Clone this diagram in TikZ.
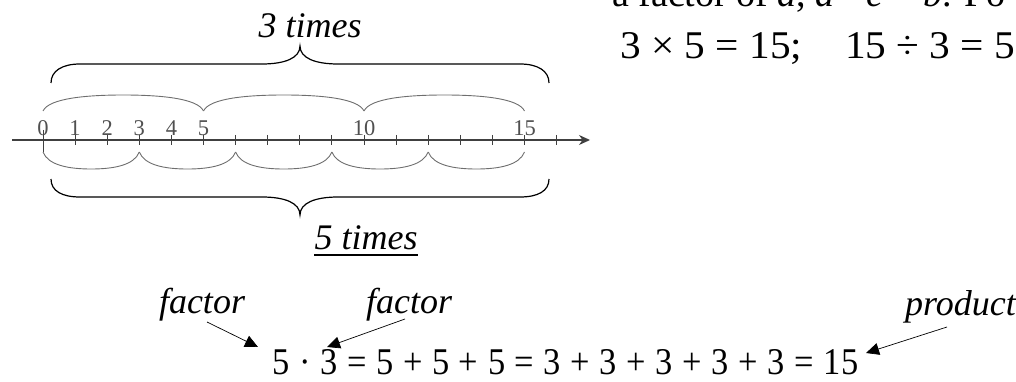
\documentclass[tikz,border=0pt]{standalone}
\usepackage{fontspec}
\setmainfont{Liberation Serif}
\usetikzlibrary{arrows.meta}
\definecolor{axisc}{HTML}{404040}
\definecolor{arcc}{HTML}{6E6E6E}
\definecolor{numc}{HTML}{505050}
\newcommand{\eqsp}{\hspace{0.28em}}
\begin{document}
\begin{tikzpicture}[x=1pt,y=-1pt,
  lbl/.style={font=\fontsize{36}{40}\selectfont\itshape, inner sep=0pt, anchor=base},
  tk/.style={draw=axisc, line width=1pt},
  arcline/.style={draw=arcc, line width=0.9pt},
  bracel/.style={draw=black, line width=1.2pt},
  ptr/.style={draw=black, line width=0.7pt, -{Triangle[length=13pt,width=12pt]}},
  num/.style={font=\fontsize{22.5}{24}\selectfont, text=numc, inner sep=0pt, anchor=base},
  eqn/.style={font=\fontsize{36}{40}\selectfont, inner sep=0pt, anchor=base west},
]
\useasboundingbox (0,0) rectangle (1016,382);
\clip (0,0) rectangle (1016,382);
% number line
\coordinate (L) at (12,140);
\coordinate (R) at (590,140);
\draw[axisc, line width=1.3pt, -{Stealth[length=11pt,width=10pt]}] (L) -- (R);
\foreach \i in {1,...,16} {\draw[tk] ({43+32.1*\i},135) -- ({43+32.1*\i},145);}
\draw[tk] (43,130) -- (43,152);
\foreach \i in {0,1,2,3,4,5,10,15} {\node[num] (n\i) at ({43+32.1*\i},135.5) {\i};}
% upper small arcs (groups of 5)
\foreach \a in {0,5,10} {
  \pgfmathsetmacro{\xa}{43+32.1*\a}
  \pgfmathsetmacro{\xb}{43+32.1*(\a+5)}
  \pgfmathsetmacro{\xm}{(\xa+\xb)/2}
  \draw[arcline] (\xa,111) .. controls (\xa+6,98) and (\xa+45,95) .. (\xm,95)
     .. controls (\xb-45,95) and (\xb-6,98) .. (\xb,111);
}
% lower small arcs (groups of 3)
\foreach \a in {0,3,6,9,12} {
  \pgfmathsetmacro{\xa}{43+32.1*\a}
  \pgfmathsetmacro{\xb}{43+32.1*(\a+3)}
  \pgfmathsetmacro{\xm}{(\xa+\xb)/2}
  \draw[arcline] (\xa,152) .. controls (\xa+5,165) and (\xa+25,169) .. (\xm,169)
     .. controls (\xb-25,169) and (\xb-5,165) .. (\xb,152);
}
% big braces
\draw[bracel] (51,83) .. controls (51,71) and (62,64) .. (80,64) -- (262,64)
  .. controls (285,64) and (300,58) .. (300,46)
  .. controls (300,58) and (315,64) .. (338,64) -- (520,64)
  .. controls (538,64) and (549,71) .. (549,83);
\draw[bracel] (51,179) .. controls (51,191) and (62,197) .. (80,197) -- (262,197)
  .. controls (285,197) and (300,203) .. (300,215)
  .. controls (300,203) and (315,197) .. (338,197) -- (520,197)
  .. controls (538,197) and (549,191) .. (549,179);
\node[lbl] (t3) at (310,38) {3 times};
\node[lbl] (t5) at (366,249) {5 times};
\draw[line width=1.5pt] ([yshift=-6pt]t5.base west) -- ([yshift=-6pt]t5.base east);
% right text
\node[eqn, font=\fontsize{38}{40}\selectfont] (r0) at (612,7) {a factor of \textit{a}, \textit{a} · \textit{c} = \textit{b}. Fo};
\node[eqn] (r1) at (620,59) {\resizebox{182pt}{26pt}{3 × 5 = 15;}};
\node[eqn] (r2) at (845,59) {\resizebox{170pt}{26pt}{15 ÷ 3 = 5}};
% bottom equation
\node[eqn] (eq) at (272,374) {\resizebox{586pt}{25pt}{5\eqsp·\eqsp3\eqsp=\eqsp5\eqsp+\eqsp5\eqsp+\eqsp5\eqsp=\eqsp3\eqsp+\eqsp3\eqsp+\eqsp3\eqsp+\eqsp3\eqsp+\eqsp3\eqsp=\eqsp15}};
\node[lbl] (f1) at (202,313) {factor};
\node[lbl] (f2) at (409,313) {factor};
\node[lbl, anchor=base east] (pr) at (1016,315) {product};
\coordinate (a1s) at (207,322);
\coordinate (a1e) at (258,347);
\coordinate (a2s) at (405,319);
\coordinate (a2e) at (327,347);
\coordinate (a3s) at (947,327);
\coordinate (a3e) at (866,353);
\draw[ptr] (a1s) -- (a1e);
\draw[ptr] (a2s) -- (a2e);
\draw[ptr] (a3s) -- (a3e);
\end{tikzpicture}
\end{document}
